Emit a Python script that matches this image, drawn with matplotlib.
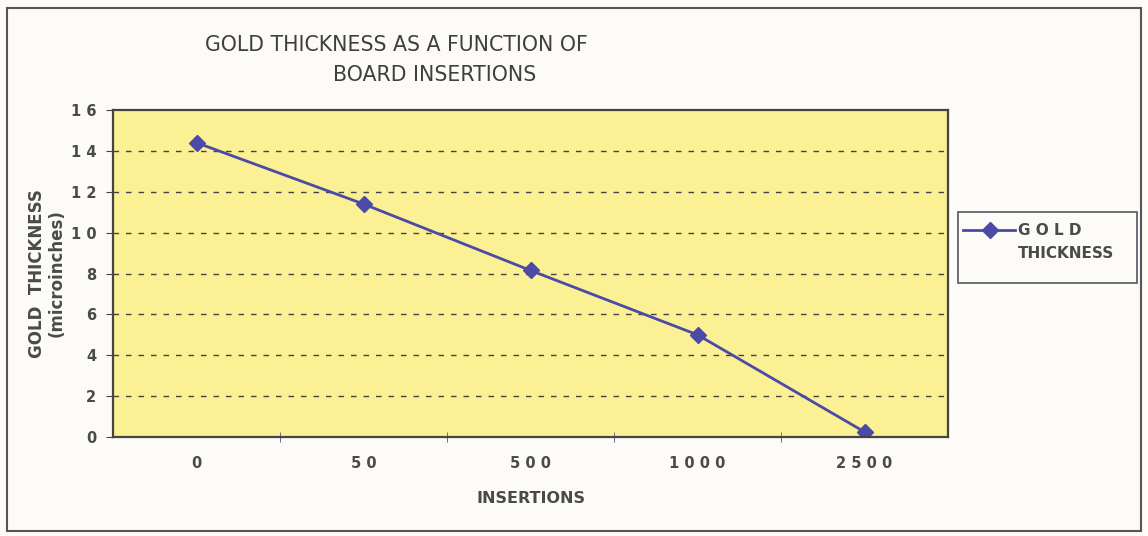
import matplotlib.pyplot as plt
from matplotlib.patches import Rectangle
from matplotlib.lines import Line2D

insertions = ['0', '50', '500', '1000', '2500']
thickness = [14.4, 11.4, 8.15, 5.0, 0.25]
y_ticks = [0, 2, 4, 6, 8, 10, 12, 14, 16]

txt = '#4a4a4a'
line_c = '#4b4aa6'

fig = plt.figure(figsize=(11.48, 5.36), dpi=100, facecolor='#fdfbf8')
ax = fig.add_axes([113 / 1148, 1 - 437 / 536, (948 - 113) / 1148, (437 - 110) / 536])
ax.set_facecolor('#fbf093')

x = list(range(len(insertions)))
ax.plot(x, thickness, color=line_c, lw=2, marker='D', ms=8, mfc=line_c, mec=line_c)

ax.set_xlim(-0.5, len(insertions) - 0.5)
ax.set_ylim(0, 16)
ax.set_yticks(y_ticks)
ax.set_yticklabels([' '.join(str(v)) for v in y_ticks], color=txt, fontsize=10.5, fontweight='bold')
ax.set_xticks(x)
ax.set_xticklabels([' '.join(s) if len(s) > 1 else s for s in insertions],
                   color=txt, fontsize=10.5, fontweight='bold')
ax.tick_params(axis='x', length=0, pad=14)
ax.set_xticks([i - 0.5 for i in range(1, len(insertions))], minor=True)
ax.tick_params(axis='x', which='minor', direction='inout', length=7, color='#555577')
ax.tick_params(axis='y', direction='out', length=5, color='#444444', pad=7)

for v in y_ticks[1:-1]:
    ax.axhline(v, color='#444444', lw=1, ls=(0, (4, 5)), zorder=1)

for s in ax.spines.values():
    s.set_color('#444444')
    s.set_linewidth(1.6)

ax.set_xlabel('INSERTIONS', color=txt, fontsize=11.5, fontweight='bold', labelpad=14)
ax.set_ylabel('GOLD  THICKNESS\n(microinches)', color=txt, fontsize=12,
              fontweight='bold', labelpad=4, linespacing=1.05)

fig.text(205 / 1148, 1 - 45 / 536, 'GOLD THICKNESS AS A FUNCTION OF', color='#3f3f3f',
         fontsize=14.8, va='center', ha='left')
fig.text(333 / 1148, 1 - 75 / 536, 'BOARD INSERTIONS', color='#3f3f3f',
         fontsize=14.8, va='center', ha='left')

# outer frame
fig.patches.append(Rectangle((7 / 1148, 1 - 531 / 536), 1134 / 1148, 523 / 536,
                             transform=fig.transFigure, fill=False,
                             ec='#555555', lw=1.5))

# legend box
fig.patches.append(Rectangle((958 / 1148, 1 - 283 / 536), 179 / 1148, 71 / 536,
                             transform=fig.transFigure, fill=False,
                             ec='#555566', lw=1.2))
fig.lines.append(Line2D([963 / 1148, 1015 / 1148], [1 - 230 / 536] * 2,
                        transform=fig.transFigure, color=line_c, lw=2))
fig.lines.append(Line2D([990 / 1148], [1 - 230 / 536], transform=fig.transFigure,
                        color=line_c, marker='D', ms=8))
fig.text(1018 / 1148, 1 - 230 / 536, 'G O L D', color=txt, fontsize=11,
         fontweight='bold', va='center')
fig.text(1018 / 1148, 1 - 254 / 536, 'THICKNESS', color=txt, fontsize=11,
         fontweight='bold', va='center')

fig.savefig('out.png', dpi=100, facecolor=fig.get_facecolor())
